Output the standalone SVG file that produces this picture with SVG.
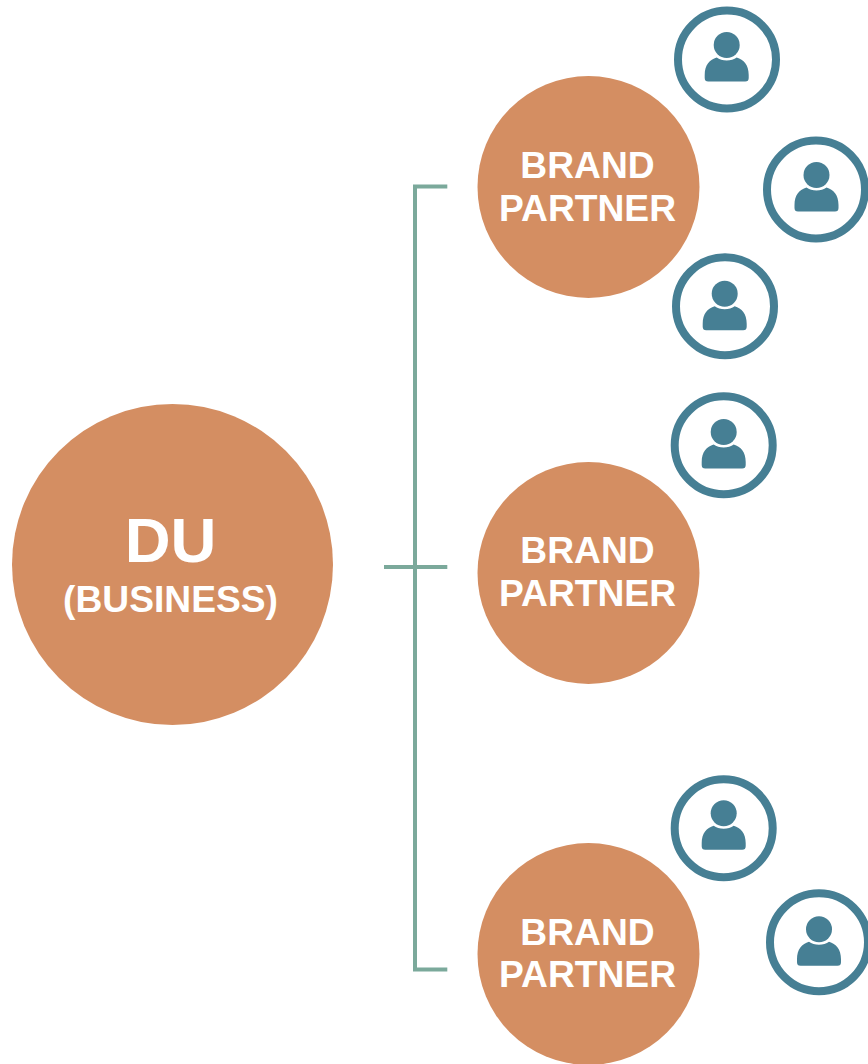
<svg xmlns="http://www.w3.org/2000/svg" width="868" height="1064" viewBox="0 0 868 1064">
<style>
.hub{fill:#d48e62}
.t{fill:#fff;font-family:"Liberation Sans",Arial,sans-serif;font-weight:700;text-anchor:middle}
.bp{font-size:37.2px}
.line{fill:none;stroke:#7ba99b;stroke-width:4}
.ring{fill:#fff;stroke:#467f94;stroke-width:8}
.p{fill:#467f94}
</style>
<defs>
<g id="glyph">
<circle class="p" r="13"/>
<path class="p" d="M-22 30C-22 20-17 14.500-10 12.500C-5 16.500 5 16.500 10 12.500C17 14.500 22 20 22 30V33Q22 36.500 18.500 36.500H-18.500Q-22 36.500-22 33Z"/>
</g>
</defs>
<rect width="868" height="1064" fill="#fff"/>
<g id="connectors">
<path class="line" d="M447.300 186.500H415V969.500H447.300"/>
<path class="line" d="M384 567H447.300"/>
</g>
<g id="du"><circle class="hub" cx="172.500" cy="564.500" r="160.500"/>
<text class="t" x="170.500" y="562" font-size="63.500">DU</text>
<text class="t" x="170.500" y="612" font-size="37.200">(BUSINESS)</text></g>
<g id="partner1"><circle class="hub" cx="588.500" cy="187" r="111"/>
<text class="t bp" x="587.500" y="178">BRAND</text><text class="t bp" x="587.500" y="221">PARTNER</text></g>
<g id="partner2"><circle class="hub" cx="588.500" cy="573" r="111"/>
<text class="t bp" x="587.500" y="563">BRAND</text><text class="t bp" x="587.500" y="606">PARTNER</text></g>
<g id="partner3"><circle class="hub" cx="588.500" cy="954" r="111"/>
<text class="t bp" x="587.500" y="945">BRAND</text><text class="t bp" x="587.500" y="987">PARTNER</text></g>
<g id="person1"><circle class="ring" cx="727" cy="59.500" r="49"/><use href="#glyph" x="726.700" y="45"/></g>
<g id="person2"><circle class="ring" cx="816" cy="189.500" r="49"/><use href="#glyph" x="816.500" y="175"/></g>
<g id="person3"><circle class="ring" cx="725" cy="306.300" r="49"/><use href="#glyph" x="724.700" y="293.800"/></g>
<g id="person4"><circle class="ring" cx="723.700" cy="445.300" r="49"/><use href="#glyph" x="723.700" y="432"/></g>
<g id="person5"><circle class="ring" cx="723.700" cy="828.300" r="49"/><use href="#glyph" x="723.700" y="813.200"/></g>
<g id="person6"><circle class="ring" cx="819" cy="942.200" r="49"/><use href="#glyph" x="819" y="929.300"/></g>
</svg>
